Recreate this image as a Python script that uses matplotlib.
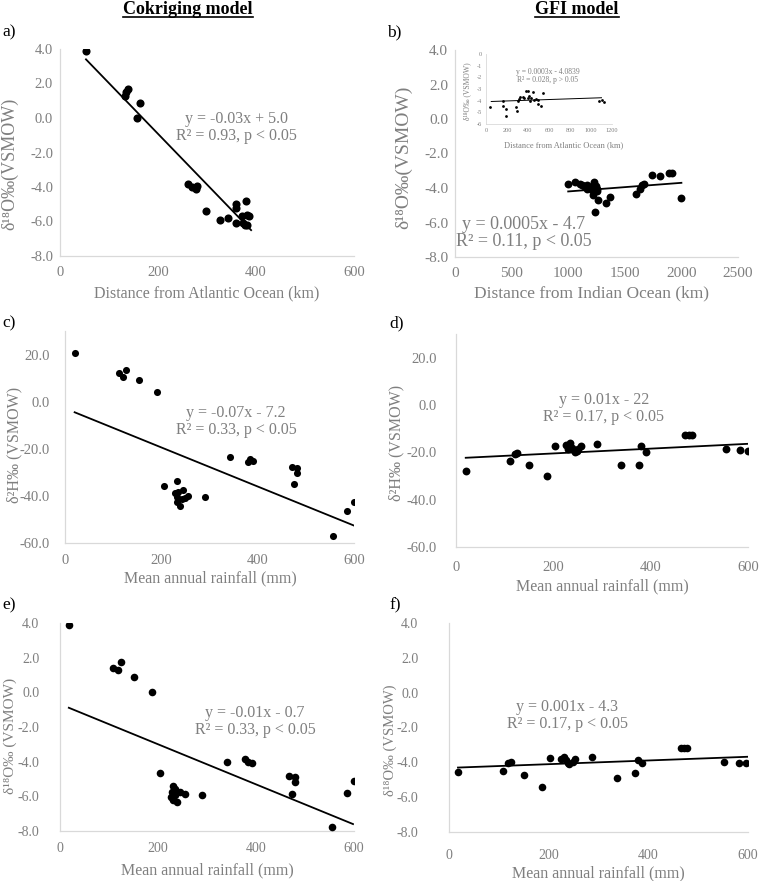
import matplotlib
matplotlib.use("Agg")
import matplotlib.pyplot as plt
from matplotlib.lines import Line2D

plt.rcParams['font.family'] = ['Liberation Serif', 'DejaVu Serif']
plt.rcParams['axes.unicode_minus'] = False

GRAY = '#7f7f7f'
AXGRAY = '#d9d9d9'

# a) Cokriging, d18O vs distance from Atlantic Ocean
a_x = [53, 139, 134, 133, 163, 158, 262, 269, 280, 277, 297, 326, 343, 360, 359,
       379, 360, 371, 382, 386, 377, 382, 373]
a_y = [3.9, 1.7, 1.5, 1.3, 0.85, 0.0, -3.85, -4.0, -3.95, -4.1, -5.4, -5.9, -5.8, -5.0, -5.2,
       -4.8, -6.1, -5.7, -5.6, -5.7, -6.2, -6.2, -6.1]
a_trend_x = [53, 390]
a_trend_y = [3.4, -6.5]

# b) GFI, d18O vs distance from Indian Ocean
b_x = [1000, 1060, 1100, 1140, 1180, 1165, 1210, 1230, 1245, 1255, 1220, 1265, 1330, 1370,
       1240, 1600, 1630, 1650, 1670, 1740, 1810, 1890, 1920, 2000,
       1120, 1170, 1200, 1235, 1250]
b_y = [-3.77, -3.68, -3.79, -3.89, -3.93, -4.08, -4.12, -3.68, -3.89, -4.08, -4.41, -4.7, -4.89, -4.5,
       -5.38, -4.35, -4.08, -3.83, -3.79, -3.25, -3.3, -3.15, -3.15, -4.6,
       -3.8, -3.85, -3.95, -4.0, -4.2]
b_trend_x = [1000, 2000]
b_trend_y = [-4.2, -3.7]

# b) inset, d18O vs distance from Atlantic Ocean
in_x = [40, 159, 159, 190, 190, 286, 295, 308, 317, 327, 349, 365, 397, 381, 403, 413, 429,
        422, 444, 460, 476, 492, 498, 524, 540, 1079, 1101, 1121]
in_y = [-4.54, -4.0, -4.49, -4.7, -5.34, -4.57, -4.9, -4.06, -3.86, -3.71, -3.71, -3.77, -3.77,
        -3.2, -3.2, -3.63, -3.77, -4.06, -3.29, -3.91, -3.83, -3.91, -4.26, -4.43, -3.34,
        -4.06, -3.97, -4.11]
in_trend_x = [50, 1100]
in_trend_y = [-4.07, -3.75]

# c) Cokriging, d2H vs rainfall
c_x = [21, 113, 127, 121, 154, 190, 343, 379, 384, 391, 471, 481, 481, 476, 206, 233, 228,
       235, 244, 232, 256, 249, 232, 239, 242, 291, 557, 586, 601]
c_y = [20.5, 12.2, 13.6, 10.3, 9.1, 4.1, -23.3, -25.8, -24.3, -25.0, -27.7, -28.2, -30.1, -34.8,
       -36.0, -33.5, -38.6, -38.3, -37.7, -40.3, -40.0, -41.0, -42.7, -44.1, -41.5, -40.3,
       -56.9, -46.3, -42.4]
c_trend_x = [20, 600]
c_trend_y = [-4.5, -52.6]

# d) GFI, d2H vs rainfall
d_x = [20, 110, 121, 126, 151, 188, 204, 227, 234, 233, 238, 244, 248, 250, 231, 257, 290,
       340, 377, 381, 391, 471, 478, 484, 555, 584, 599]
d_y = [-27.8, -23.6, -20.6, -20.4, -25.3, -29.9, -17.2, -16.8, -16.1, -17.8, -18.2, -20.0,
       -19.3, -18.6, -18.6, -17.2, -16.4, -25.3, -25.3, -17.2, -19.7, -12.6, -12.6, -12.6,
       -18.5, -19.2, -19.4]
d_trend_x = [20, 600]
d_trend_y = [-22.3, -16.4]

# e) Cokriging, d18O vs rainfall
e_x = [18, 109, 118, 124, 151, 188, 204, 340, 377, 384, 391, 468, 479, 479, 474, 231, 228,
       235, 245, 255, 226, 231, 238, 235, 289, 556, 585, 600]
e_y = [3.9, 1.42, 1.29, 1.77, 0.87, 0.04, -4.67, -4.04, -3.87, -4.0, -4.1, -4.83, -4.87, -5.2,
       -5.87, -5.39, -5.73, -5.6, -5.73, -5.87, -6.06, -6.22, -6.31, -5.9, -5.9, -7.75, -5.8,
       -5.1]
e_trend_x = [18, 598]
e_trend_y = [-0.89, -7.6]

# f) GFI, d18O vs rainfall
f_x = [18, 108, 118, 124, 150, 187, 203, 225, 230, 235, 240, 248, 253, 238, 287, 337, 374,
       379, 387, 466, 471, 477, 551, 581, 595]
f_y = [-4.57, -4.48, -4.05, -4.0, -4.73, -5.4, -3.77, -3.83, -3.68, -3.85, -4.09, -3.97, -3.82,
       -4.02, -3.68, -4.92, -4.63, -3.86, -4.05, -3.19, -3.19, -3.19, -3.96, -4.02, -4.02]
f_trend_x = [18, 600]
f_trend_y = [-4.3, -3.68]

W, H = 764, 881
fig = plt.figure(figsize=(W / 100, H / 100), dpi=100)


def add_ax(l, r, t, b):
    return fig.add_axes([l / W, 1 - b / H, (r - l) / W, (b - t) / H])


def ftext(x, y, s, **kw):
    return fig.text(x / W, 1 - y / H, s, **kw)


def style(ax, xlim, xticks, ylim, yticks, fs, xpad, ypad, fmt="{:.1f}"):
    ax.set_xlim(*xlim)
    ax.set_ylim(*ylim)
    ax.set_xticks(xticks)
    ax.set_xticklabels([str(v) for v in xticks])
    ax.set_yticks(yticks)
    ax.set_yticklabels([fmt.format(v) for v in yticks])
    for s in ['top', 'right']:
        ax.spines[s].set_visible(False)
    for s in ['left', 'bottom']:
        ax.spines[s].set_color(AXGRAY)
        ax.spines[s].set_linewidth(0.9)
    ax.tick_params(axis='x', length=0, labelsize=fs, labelcolor=GRAY, pad=xpad)
    ax.tick_params(axis='y', length=0, labelsize=fs, labelcolor=GRAY, pad=ypad)
    ax.patch.set_alpha(0)


def panel(ax, x, y, tx, ty, ms=30):
    ax.scatter(x, y, s=ms, color='black', zorder=3, linewidths=0)
    ax.plot(tx, ty, color='black', lw=1.3, zorder=2)


# a)
ax_a = add_ax(60, 354, 49, 256)
panel(ax_a, a_x, a_y, a_trend_x, a_trend_y, ms=34)
style(ax_a, (0, 600), [0, 200, 400, 600], (-8, 4), [-8, -6, -4, -2, 0, 2, 4], 10.5, 7, 5)
ax_a.text(361, -0.55, "y = -0.03x + 5.0\nR² = 0.93, p < 0.05", ha='center', va='center',
          fontsize=11.5, color=GRAY, linespacing=1.05)

# b)
ax_b = add_ax(455, 738, 50, 257)
panel(ax_b, b_x, b_y, b_trend_x, b_trend_y, ms=32)
style(ax_b, (0, 2500), [0, 500, 1000, 1500, 2000, 2500], (-8, 4), [-8, -6, -4, -2, 0, 2, 4],
      11, 7, 5)
ax_b.text(610, -6.58, "y = 0.0005x - 4.7\nR² = 0.11, p < 0.05", ha='center', va='center',
          fontsize=13, color=GRAY, linespacing=1.0)

# b) inset
ax_in = add_ax(486, 612, 54, 124)
ax_in.scatter(in_x, in_y, s=4, color='black', zorder=3, linewidths=0)
ax_in.plot(in_trend_x, in_trend_y, color='black', lw=0.7)
style(ax_in, (0, 1200), [0, 200, 400, 600, 800, 1000, 1200], (-6, 0),
      [-6, -5, -4, -3, -2, -1, 0], 4.5, 3, 3, fmt="{:.0f}")
ax_in.text(590, -1.89, "y = 0.0003x - 4.0839\nR² = 0.028, p > 0.05", ha='center', va='center',
           fontsize=5.5, color=GRAY, linespacing=1.05)
ax_in.spines['left'].set_linewidth(0.6)
ax_in.spines['bottom'].set_linewidth(0.6)
ftext(467, 91, "δ¹⁸O‰ (VSMOW)", rotation=90, ha='center', va='center', fontsize=5.5, color=GRAY)
ftext(564, 145, "Distance from Atlantic Ocean (km)", ha='center', va='center', fontsize=6,
      color=GRAY)

# c)
ax_c = add_ax(65, 354, 331, 543)
panel(ax_c, c_x, c_y, c_trend_x, c_trend_y, ms=26)
style(ax_c, (0, 600), [0, 200, 400, 600], (-60, 30), [-60, -40, -20, 0, 20], 10.5, 8, 11)
ax_c.text(355, -8.5, "y = -0.07x - 7.2\nR² = 0.33, p < 0.05", ha='center', va='center',
          fontsize=11.5, color=GRAY, linespacing=1.05)

# d)
ax_d = add_ax(456, 748, 334, 547)
panel(ax_d, d_x, d_y, d_trend_x, d_trend_y, ms=32)
style(ax_d, (0, 600), [0, 200, 400, 600], (-60, 30), [-60, -40, -20, 0, 20], 10.5, 10, 14)
ax_d.text(304, -1.6, "y = 0.01x - 22\nR² = 0.17, p < 0.05", ha='center', va='center',
          fontsize=11.5, color=GRAY, linespacing=1.05)

# e)
ax_e = add_ax(60, 354, 623, 831)
panel(ax_e, e_x, e_y, e_trend_x, e_trend_y, ms=30)
style(ax_e, (0, 600), [0, 200, 400, 600], (-8, 4), [-8, -6, -4, -2, 0, 2, 4], 10, 8, 15)
ax_e.text(398, -1.68, "y = -0.01x - 0.7\nR² = 0.33, p < 0.05", ha='center', va='center',
          fontsize=11.5, color=GRAY, linespacing=1.05)

# f)
ax_f = add_ax(449, 748, 623, 832)
panel(ax_f, f_x, f_y, f_trend_x, f_trend_y, ms=30)
style(ax_f, (0, 600), [0, 200, 400, 600], (-8, 4), [-8, -6, -4, -2, 0, 2, 4], 10, 12, 22)
ax_f.text(237, -1.31, "y = 0.001x - 4.3\nR² = 0.17, p < 0.05", ha='center', va='center',
          fontsize=11.5, color=GRAY, linespacing=1.05)

# axis titles
ftext(10, 164, "δ¹⁸O‰(VSMOW)", rotation=90, ha='center', va='center', fontsize=13, color=GRAY)
ftext(404, 157, "δ¹⁸O‰(VSMOW)", rotation=90, ha='center', va='center', fontsize=14, color=GRAY)
ftext(14, 445, "δ²H‰ (VSMOW)", rotation=90, ha='center', va='center', fontsize=11.5, color=GRAY)
ftext(396, 443, "δ²H‰ (VSMOW)", rotation=90, ha='center', va='center', fontsize=11.5, color=GRAY)
ftext(10, 736, "δ¹⁸O‰ (VSMOW)", rotation=90, ha='center', va='center', fontsize=11, color=GRAY)
ftext(390, 740, "δ¹⁸O‰ (VSMOW)", rotation=90, ha='center', va='center', fontsize=10.5, color=GRAY)

ftext(207, 293, "Distance from Atlantic Ocean (km)", ha='center', va='center', fontsize=11.5,
      color=GRAY)
ftext(591, 293, "Distance from Indian Ocean (km)", ha='center', va='center', fontsize=12.5,
      color=GRAY)
ftext(210, 578, "Mean annual rainfall (mm)", ha='center', va='center', fontsize=11.5, color=GRAY)
ftext(602, 586, "Mean annual rainfall (mm)", ha='center', va='center', fontsize=11.5, color=GRAY)
ftext(207, 870, "Mean annual rainfall (mm)", ha='center', va='center', fontsize=11.5, color=GRAY)
ftext(598, 873, "Mean annual rainfall (mm)", ha='center', va='center', fontsize=11.5, color=GRAY)

# panel letters
for lx, ly, s in [(2, 32, "a)"), (387, 32, "b)"), (2, 323, "c)"), (389, 323, "d)"),
                  (2, 605, "e)"), (389, 605, "f)")]:
    ftext(lx, ly, s, ha='left', va='center', fontsize=12.5, color='black')

# column headers, underlined
heads = [ftext(188, 10, "Cokriging model", ha='center', va='center', fontsize=13,
               fontweight='bold'),
         ftext(577, 10, "GFI model", ha='center', va='center', fontsize=13, fontweight='bold')]
fig.canvas.draw()
inv = fig.transFigure.inverted()
for t in heads:
    bb = t.get_window_extent()
    (x0, y0), (x1, _) = inv.transform([(bb.x0, bb.y0 + 1.5), (bb.x1, bb.y0)])
    fig.add_artist(Line2D([x0, x1], [y0, y0], transform=fig.transFigure, color='black', lw=1.2))

fig.savefig("out.png", dpi=100)
